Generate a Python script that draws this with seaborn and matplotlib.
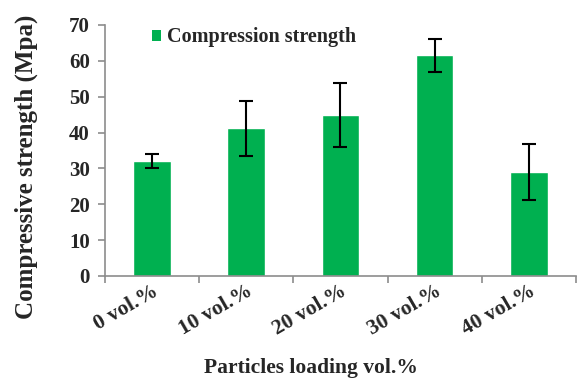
import matplotlib
matplotlib.use("Agg")
import matplotlib.pyplot as plt
import matplotlib.transforms as mtransforms
import seaborn as sns
import pandas as pd
from matplotlib.patches import Patch

categories = ["0 vol.%", "10 vol.%", "20 vol.%", "30 vol.%", "40 vol.%"]
strength = [32.1, 41.2, 44.8, 61.5, 29.0]
errors = [1.9, 7.7, 8.9, 4.6, 7.8]
yticks = [0, 10, 20, 30, 40, 50, 60, 70]

sns.set_theme(style="white")
plt.rcParams["font.family"] = ["Liberation Serif", "DejaVu Serif"]
plt.rcParams["font.weight"] = "bold"

green = "#00B050"
grey = "#8c8c8c"

df = pd.DataFrame({"cat": categories, "val": strength})

fig = plt.figure(figsize=(5.77, 3.78), dpi=100)
ax = fig.add_axes([0.182, 0.270, 0.816, 0.664])

sns.barplot(data=df, x="cat", y="val", color=green, saturation=1, width=0.4,
            errorbar=None, ax=ax)
ax.errorbar(x=list(range(len(categories))), y=strength, yerr=errors, fmt="none",
            ecolor="black", elinewidth=1.5, capsize=5, capthick=1.5)

ax.set_xlim(-0.5, len(categories) - 0.5)
ax.set_ylim(0, 70)
ax.set_yticks(yticks)
ax.set_yticklabels([str(t) for t in yticks], fontsize=15, fontweight="bold")
ax.set_xticks(range(len(categories)))
ax.set_xticklabels(categories, fontsize=15.5, fontweight="bold", rotation=30,
                   ha="right", rotation_mode="anchor")
offset = mtransforms.ScaledTranslation(-8 / 72, -12 / 72, fig.dpi_scale_trans)
for lbl in ax.get_xticklabels():
    lbl.set_transform(lbl.get_transform() + offset)

for s in ["top", "right"]:
    ax.spines[s].set_visible(False)
for s in ["left", "bottom"]:
    ax.spines[s].set_color(grey)
    ax.spines[s].set_linewidth(1.2)

ax.tick_params(axis="y", which="both", length=5, width=1.2, color=grey, direction="out", left=True, pad=6)
ax.tick_params(axis="x", which="major", length=0, pad=4)
ax.set_xticks([i - 0.5 for i in range(len(categories) + 1)], minor=True)
ax.tick_params(axis="x", which="minor", length=5, width=1.2, color=grey, direction="out", bottom=True)

ax.set_xlabel("Particles loading vol.%", fontsize=15.5, fontweight="bold")
ax.xaxis.set_label_coords(0.437, -0.325)
ax.set_ylabel("Compressive strength (Mpa)", fontsize=18, fontweight="bold")
ax.yaxis.set_label_coords(-0.142, 0.434)

handle = Patch(facecolor=green, edgecolor="none")
ax.legend([handle], ["Compression strength"], loc="upper left",
          bbox_to_anchor=(0.1, 0.99), frameon=False,
          prop={"weight": "bold", "size": 14.5}, handlelength=0.45, handleheight=0.45,
          handletextpad=0.3, borderpad=0, borderaxespad=0)

fig.savefig("out.png", dpi=100)
